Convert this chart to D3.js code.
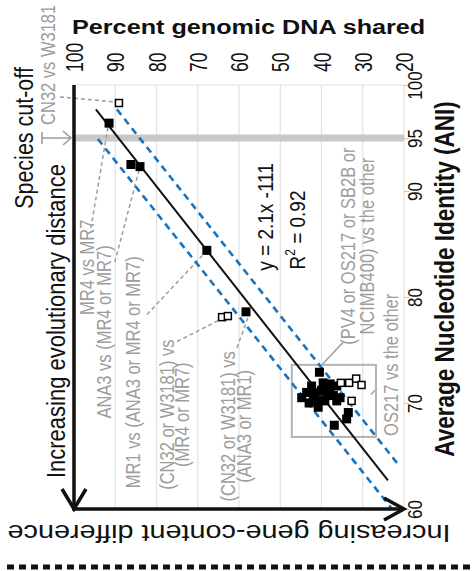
<!doctype html>
<html>
<head>
<meta charset="utf-8">
<script src="https://cdn.jsdelivr.net/npm/d3@7"></script>
<style>
  body { margin: 0; background: #fff; }
  svg { display: block; font-family: "Liberation Sans", Arial, sans-serif; }
</style>
</head>
<body>
<svg id="chart" width="475" height="571"></svg>
<script>
// Percent genomic DNA shared vs ANI, figure is laid on its side (ANI runs up, % runs left)
var pctTicks = [100, 90, 80, 70, 60, 50, 40, 30, 20];
var aniTicks = [100, 95, 90, 80, 70, 60];

// filled squares
var filledPct = [91.5, 86.2, 84.0, 67.8, 58.3,
  40.5, 39.6, 42.4, 37.9, 36.3, 43.6, 42.0, 38.7, 37.1, 35.5, 44.8, 41.2, 39.2, 36.3, 40.8,
  33.5, 33.9, 36.9, 40.0, 38.0, 41.5, 43.0];
var filledAni = [96.4, 92.5, 92.3, 84.4, 78.6,
  72.9, 71.9, 71.6, 71.8, 71.6, 71.0, 70.8, 70.8, 70.7, 70.5, 70.5, 70.2, 70.2, 70.2, 69.6,
  69.1, 68.5, 67.9, 71.2, 71.3, 70.9, 70.0];
// open squares
var openPct = [89.1, 64.1, 62.7, 35.3, 33.3, 31.6, 30.3, 32.7];
var openAni = [98.3, 78.1, 78.2, 71.9, 71.9, 72.3, 71.7, 70.2];

// fit line (y = 2.1x - 111) and the two blue dashed bounds, end points
var fitPct = [94.7, 23.9];
var fitAni = [97.7, 62.7];
var upperPct = [89.6, 21.0];
var upperAni = [97.7, 64.0];
var lowerPct = [94.2, 22.9];
var lowerAni = [94.9, 60.0];
var cutoffAni = 95;

// grey box round the cluster
var boxPct = [47.2, 26.8];
var boxAni = [73.6, 66.8];

// grey pair labels
var labelLines = [["CN32 vs W3181"], ["MR4 vs MR7"], ["ANA3 vs (MR4 or MR7)"],
  ["MR1 vs (ANA3 or MR4 or MR7)"], ["(CN32 or W3181) vs", "(MR4 or MR7)"],
  ["(CN32 or W3181) vs", "(ANA3 or MR1)"], ["(PV4 or OS217 or SB2B or", "NCIMB400) vs the other"],
  ["OS217 vs the other"]];
var labelPct = [104.6, 95.2, 91.0, 84.0, 75.8, 61.0, 31.9, 21.5];
var labelAni = [101.9, 82.8, 76.7, 72.9, 68.9, 67.8, 84.8, 73.6];
var labelGap = [0, 0, 0, 0, 15, 16, 19, 0];

// leader lines from labels to points
var leaderPct = [[103.4, 89.8], [95.9, 91.8], [90.1, 84.2], [82.3, 68.2], [75.0, 64.4], [60.5, 57.8], [34.8, 39.9], [28.0, 26.5]];
var leaderAni = [[98.87, 98.4], [86.5, 95.95], [83.3, 92.0], [78.35, 84.2], [75.8, 77.9], [75.2, 78.1], [75.7, 73.6], [70.8, 71.4]];
var leaderDashed = [true, true, true, true, true, true, false, false];

var K = 1.2; // the picture is a bit wider than tall
var grey = "#9d9d9d";

var svg = d3.select("#chart");
var x = d3.scaleLinear().domain([100, 20]).range([74, 404]);
var y = d3.scaleLinear().domain([60, 100]).range([509, 85]);

function vtext(g, px, py, str, size, anchor, weight, fill) {
  return g.append("text")
    .attr("transform", "translate(" + px + "," + py + ") scale(" + K + ",1) rotate(-90)")
    .attr("text-anchor", anchor)
    .style("font-size", size + "px")
    .style("font-weight", weight || "normal")
    .attr("fill", fill || "#111")
    .text(str);
}

// gridlines
svg.append("g").selectAll("line")
  .data(pctTicks.slice(1))
  .enter().append("line")
  .attr("x1", function(d) { return x(d); })
  .attr("x2", function(d) { return x(d); })
  .attr("y1", y(100)).attr("y2", y(60))
  .attr("stroke", "#e2e2e2").attr("stroke-width", 1.2);
svg.append("line")
  .attr("x1", x(100)).attr("x2", x(20))
  .attr("y1", y(100)).attr("y2", y(100))
  .attr("stroke", "#e2e2e2").attr("stroke-width", 1.2);

// species cut-off band
svg.append("rect")
  .attr("x", x(100)).attr("width", x(20) - x(100))
  .attr("y", y(cutoffAni) - 3.5).attr("height", 7)
  .attr("fill", "#c8c8c8");

// top axis
var topAxis = svg.append("g").attr("transform", "translate(0," + y(100) + ")")
  .call(d3.axisTop(x).tickValues(pctTicks).tickSize(0));
topAxis.select(".domain").remove();
topAxis.selectAll("text")
  .attr("x", 0).attr("y", 0).attr("dy", 0)
  .attr("transform", "translate(8.5,-13) scale(1.35,1) rotate(-90)")
  .attr("text-anchor", "start")
  .style("font-size", "17.5px").style("font-family", "Liberation Sans, Arial, sans-serif")
  .attr("fill", "#111");

// right axis
var rightAxis = svg.append("g").attr("transform", "translate(" + x(20) + ",0)")
  .call(d3.axisRight(y).tickValues(aniTicks).tickSize(5));
rightAxis.select(".domain").remove();
rightAxis.selectAll("line").attr("stroke", "#c8c8c8");
rightAxis.selectAll("text")
  .attr("x", 0).attr("y", 0).attr("dy", 0)
  .attr("transform", "translate(18,0) scale(" + K + ",1) rotate(-90)")
  .attr("text-anchor", "middle")
  .style("font-size", "17px").style("font-family", "Liberation Sans, Arial, sans-serif")
  .attr("fill", "#111");

// leaders
var line = d3.line();
leaderPct.forEach(function(p, i) {
  svg.append("path")
    .attr("d", line([[x(p[0]), y(leaderAni[i][0])], [x(p[1]), y(leaderAni[i][1])]]))
    .attr("fill", "none").attr("stroke", grey).attr("stroke-width", 1.5)
    .attr("stroke-dasharray", leaderDashed[i] ? "4,3" : null);
});

// box
svg.append("rect")
  .attr("x", x(boxPct[0])).attr("y", y(boxAni[0]))
  .attr("width", x(boxPct[1]) - x(boxPct[0]))
  .attr("height", y(boxAni[1]) - y(boxAni[0]))
  .attr("fill", "none").attr("stroke", "#b3b3b3").attr("stroke-width", 2);

// blue bounds + fit
[[upperPct, upperAni], [lowerPct, lowerAni]].forEach(function(b) {
  svg.append("path")
    .attr("d", line([[x(b[0][0]), y(b[1][0])], [x(b[0][1]), y(b[1][1])]]))
    .attr("stroke", "#1a73bd").attr("stroke-width", 2.6)
    .attr("stroke-dasharray", "7,5").attr("fill", "none");
});
svg.append("path")
  .attr("d", line([[x(fitPct[0]), y(fitAni[0])], [x(fitPct[1]), y(fitAni[1])]]))
  .attr("stroke", "#111").attr("stroke-width", 2).attr("fill", "none");

// squares
svg.append("g").selectAll("rect")
  .data(filledPct)
  .enter().append("rect")
  .attr("x", function(d) { return x(d) - 4.5; })
  .attr("y", function(d, i) { return y(filledAni[i]) - 4.5; })
  .attr("width", 9).attr("height", 9)
  .attr("fill", "#000");
svg.append("g").selectAll("rect")
  .data(openPct)
  .enter().append("rect")
  .attr("x", function(d) { return x(d) - 3.5; })
  .attr("y", function(d, i) { return y(openAni[i]) - 3.5; })
  .attr("width", 7).attr("height", 7)
  .attr("fill", "#fff").attr("stroke", "#000").attr("stroke-width", 1.5);

// equation
vtext(svg, 273, 217, "y = 2.1x -111", 19, "middle");
var r2 = vtext(svg, 305, 230, "R", 19, "middle");
r2.append("tspan").attr("dy", -8).style("font-size", "12px").text("2");
r2.append("tspan").attr("dy", 8).text(" = 0.92");

// grey labels
labelLines.forEach(function(lines, i) {
  lines.forEach(function(t, j) {
    vtext(svg, x(labelPct[i]) + j * labelGap[i], y(labelAni[i]), t, 16.5, "middle", "normal", grey);
  });
});

// species cut-off arrow
var yc = y(cutoffAni);
svg.append("path")
  .attr("d", "M42," + (yc - 6) + "V" + (yc + 6) + "M42," + yc + "H71M63," + (yc - 7) + "L71," + yc + "L63," + (yc + 7))
  .attr("fill", "none").attr("stroke", grey).attr("stroke-width", 1.6);

// axes with arrows
svg.append("path")
  .attr("d", "M" + x(100) + "," + y(100) + "V" + y(60) + "H" + (x(20) - 1))
  .attr("fill", "none").attr("stroke", "#111").attr("stroke-width", 3.5);
svg.append("path")
  .attr("d", "M" + (x(100) - 12) + "," + (y(60) - 20) + "L" + x(100) + "," + y(60) + "L" + (x(100) + 12) + "," + (y(60) - 20))
  .attr("fill", "none").attr("stroke", "#111").attr("stroke-width", 3.5);
svg.append("path")
  .attr("d", "M" + (x(20) - 20) + "," + (y(60) - 11) + "L" + x(20) + "," + y(60) + "L" + (x(20) - 20) + "," + (y(60) + 11))
  .attr("fill", "none").attr("stroke", "#111").attr("stroke-width", 3.5);

// titles
svg.append("text")
  .attr("transform", "translate(72,34) scale(" + K + ",1)")
  .style("font-size", "21px").style("font-weight", "bold")
  .attr("fill", "#111")
  .text("Percent genomic DNA shared");
vtext(svg, 454, 279, "Average Nucleotide Identity (ANI)", 22.5, "middle", "bold");
vtext(svg, 33, yc, "Species cut-off", 21.5, "middle");
vtext(svg, 65, 321, "Increasing evolutionary distance", 22, "middle");
svg.append("text")
  .attr("transform", "translate(229,525) scale(" + K + ",1) rotate(180)")
  .attr("text-anchor", "middle")
  .style("font-size", "24px")
  .attr("fill", "#111")
  .text("Increasing gene-content difference");

// dashed rule at bottom
svg.append("line")
  .attr("x1", 7).attr("x2", 470).attr("y1", 567).attr("y2", 567)
  .attr("stroke", "#111").attr("stroke-width", 5).attr("stroke-dasharray", "7,5");
</script>
</body>
</html>
